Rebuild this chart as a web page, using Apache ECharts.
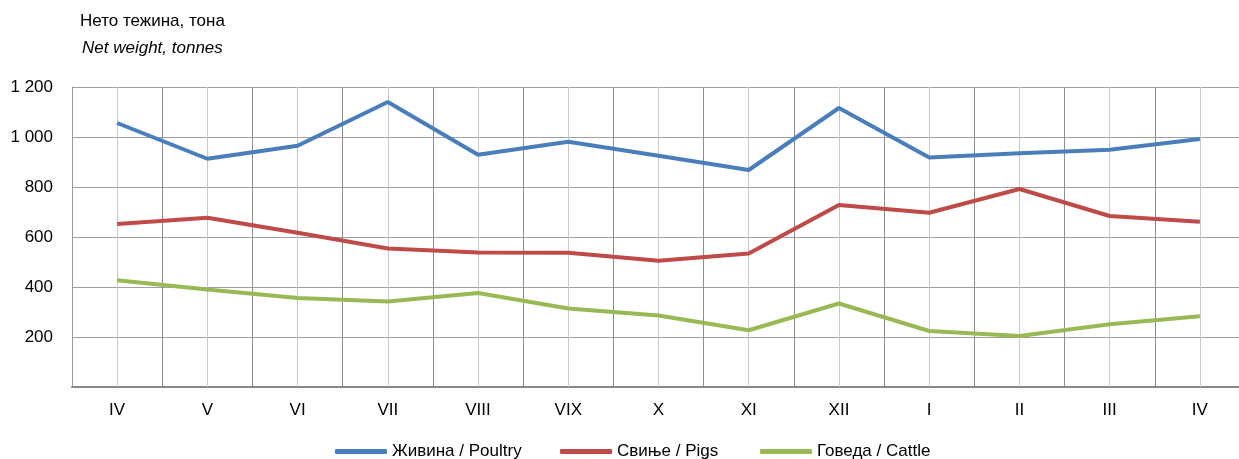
<!DOCTYPE html>
<html><head><meta charset="utf-8">
<script src="https://cdn.jsdelivr.net/npm/echarts@6/dist/echarts.min.js"></script>
<style>html,body{margin:0;padding:0;background:#fff}#c{width:1239px;height:459px}</style>
</head><body><div id="c"></div>
<script>
const categories = ['IV','V','VI','VII','VIII','VIX','X','XI','XII','I','II','III','IV'];
const poultry = [1056, 913, 965, 1140, 929, 981, 925, 868, 1116, 918, 935, 949, 992];
const pigs = [652, 677, 617, 554, 538, 537, 505, 534, 728, 697, 792, 684, 661];
const cattle = [427, 390, 356, 342, 376, 314, 286, 227, 334, 224, 204, 251, 283];
const seriesNames = ['Живина / Poultry', 'Свиње / Pigs', 'Говеда / Cattle'];

const FONT = '"Liberation Sans", Arial, sans-serif';
const FS = 17;
const chart = echarts.init(document.getElementById('c'), null, {renderer: 'canvas'});
const colors = ['#4a7ebb', '#be4b48', '#98b954'];
const mk = (name, data, i) => ({
  name, type: 'line', data, showSymbol: false, symbol: 'none', smooth: false,
  lineStyle: {width: 4, color: colors[i]}, itemStyle: {color: colors[i]}, z: 5
});
const legendLefts = [330, 555, 755];
chart.setOption({
  animation: false,
  textStyle: {fontFamily: FONT},
  grid: {left: 72, width: 1173, top: 87, bottom: 72, containLabel: false, outerBoundsMode: 'none'},
  graphic: [
    {type: 'text', left: 80, top: 13, style: {text: 'Нето тежина, тона', font: FS + 'px ' + FONT, fill: '#000'}},
    {type: 'text', left: 82, top: 40, style: {text: 'Net weight, tonnes', font: 'italic ' + FS + 'px ' + FONT, fill: '#000'}}
  ],
  legend: seriesNames.map((n, i) => ({
    left: legendLefts[i], top: 438, itemWidth: 52, itemHeight: 5, icon: 'roundRect',
    textStyle: {fontSize: FS, fontFamily: FONT, color: '#000'},
    data: [n]
  })),
  xAxis: {
    type: 'category', data: categories, boundaryGap: true,
    axisLine: {lineStyle: {color: '#888', width: 2}},
    axisTick: {show: false},
    axisLabel: {color: '#000', fontSize: FS, margin: 15, fontFamily: FONT, interval: 0},
    splitLine: {show: true, lineStyle: {color: '#8c8c8c', width: 1}}
  },
  yAxis: {
    type: 'value', min: 0, max: 1200, interval: 200,
    axisLine: {show: true, lineStyle: {color: '#999', width: 1}},
    axisTick: {show: false},
    axisLabel: {color: '#000', fontSize: FS, margin: 19, fontFamily: FONT,
      formatter: v => v === 0 ? '' : String(v).replace(/\B(?=(\d{3})+(?!\d))/g, ' ')},
    splitLine: {show: true, lineStyle: {color: '#a0a0a0', width: 1}}
  },
  series: [
    {
      type: 'line', data: [], silent: true, z: 1,
      markLine: {
        silent: true, symbol: 'none', label: {show: false},
        lineStyle: {color: '#c8c8c8', width: 1, type: 'solid'},
        data: categories.map((c, i) => ({xAxis: i}))
      }
    },
    mk(seriesNames[0], poultry, 0),
    mk(seriesNames[1], pigs, 1),
    mk(seriesNames[2], cattle, 2)
  ]
});
</script></body></html>
